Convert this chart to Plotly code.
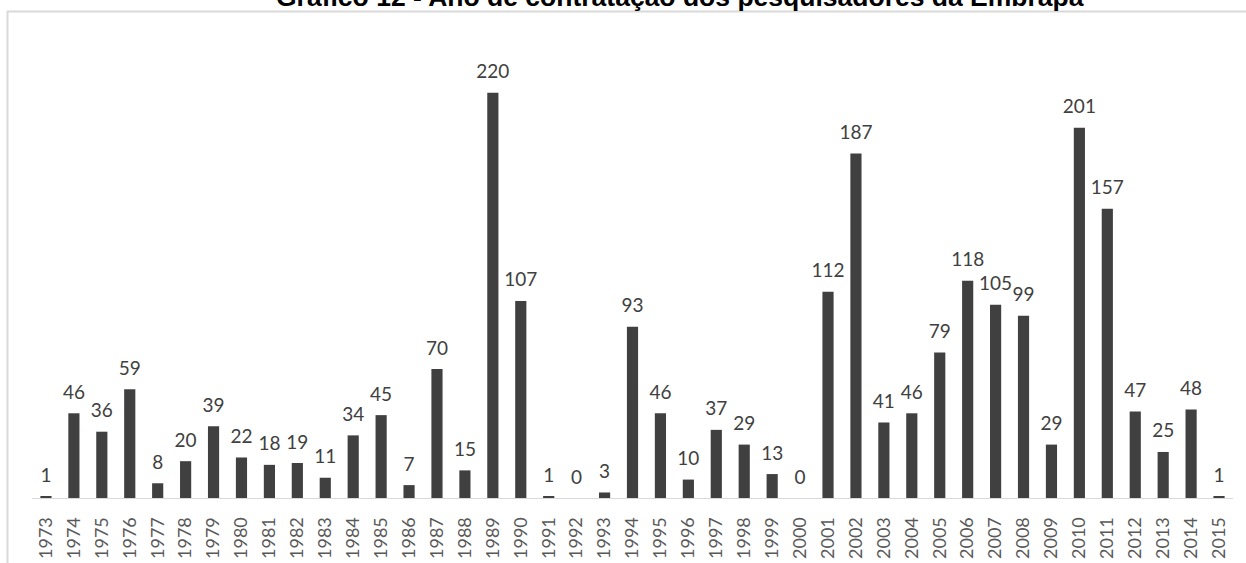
import plotly.graph_objects as go

# Ano de contratação e número de pesquisadores contratados
anos = [str(a) for a in range(1973, 2016)]
pesquisadores = [1, 46, 36, 59, 8, 20, 39, 22, 18, 19, 11, 34, 45, 7, 70, 15,
                 220, 107, 1, 0, 3, 93, 46, 10, 37, 29, 13, 0, 112, 187, 41,
                 46, 79, 118, 105, 99, 29, 201, 157, 47, 25, 48, 1]

titulo = "Gráfico 12 - Ano de contratação dos pesquisadores da Embrapa"

W, H = 1246, 563
ML, MR, MT, MB = 32, 13, 56, 65
YMAX = 240
plot_h = H - MT - MB
plot_w = W - ML - MR


def py(px):
    """pixel row -> paper y"""
    return (H - MB - px) / plot_h


def pxx(px):
    """pixel column -> paper x"""
    return (px - ML) / plot_w


fig = go.Figure()
fig.add_trace(go.Bar(
    x=anos, y=pesquisadores,
    marker=dict(color="#404040", line=dict(width=0)),
    hoverinfo="x+y",
))
# rótulos de valor acima de cada barra
fig.add_trace(go.Scatter(
    x=anos, y=pesquisadores,
    mode="markers+text",
    marker=dict(size=14, color="rgba(0,0,0,0)"),
    text=[str(v) for v in pesquisadores],
    textposition="top center",
    textfont=dict(family="Lato", size=19, color="#404040"),
    cliponaxis=False,
    hoverinfo="skip",
))

fig.update_layout(
    width=W, height=H,
    margin=dict(l=ML, r=MR, t=MT, b=MB, autoexpand=False),
    paper_bgcolor="white", plot_bgcolor="white",
    showlegend=False,
    bargap=0.6,
    xaxis=dict(
        type="category",
        range=[-0.5, len(anos) - 0.5],
        automargin=False,
        showline=True, linecolor="#d9d9d9", linewidth=1,
        ticks="", tickangle=-90, ticklabelstandoff=11,
        tickfont=dict(family="Lato", size=18, color="#595959"),
        showgrid=False, zeroline=False,
    ),
    yaxis=dict(
        range=[0, YMAX], visible=False, showgrid=False, zeroline=False,
        automargin=False,
    ),
    shapes=[dict(
        type="rect", xref="paper", yref="paper",
        x0=pxx(7.5), x1=pxx(1260), y0=py(580), y1=py(11.5),
        line=dict(color="#d9d9d9", width=2), fillcolor="rgba(0,0,0,0)",
        layer="below",
    )],
    annotations=[dict(
        text=f"<b>{titulo}</b>",
        xref="paper", yref="paper",
        x=pxx(680), y=py(-3),
        xanchor="center", yanchor="middle",
        showarrow=False,
        font=dict(family="Liberation Sans", size=26.5, color="#000000"),
    )],
)

fig.write_html("out.html")
